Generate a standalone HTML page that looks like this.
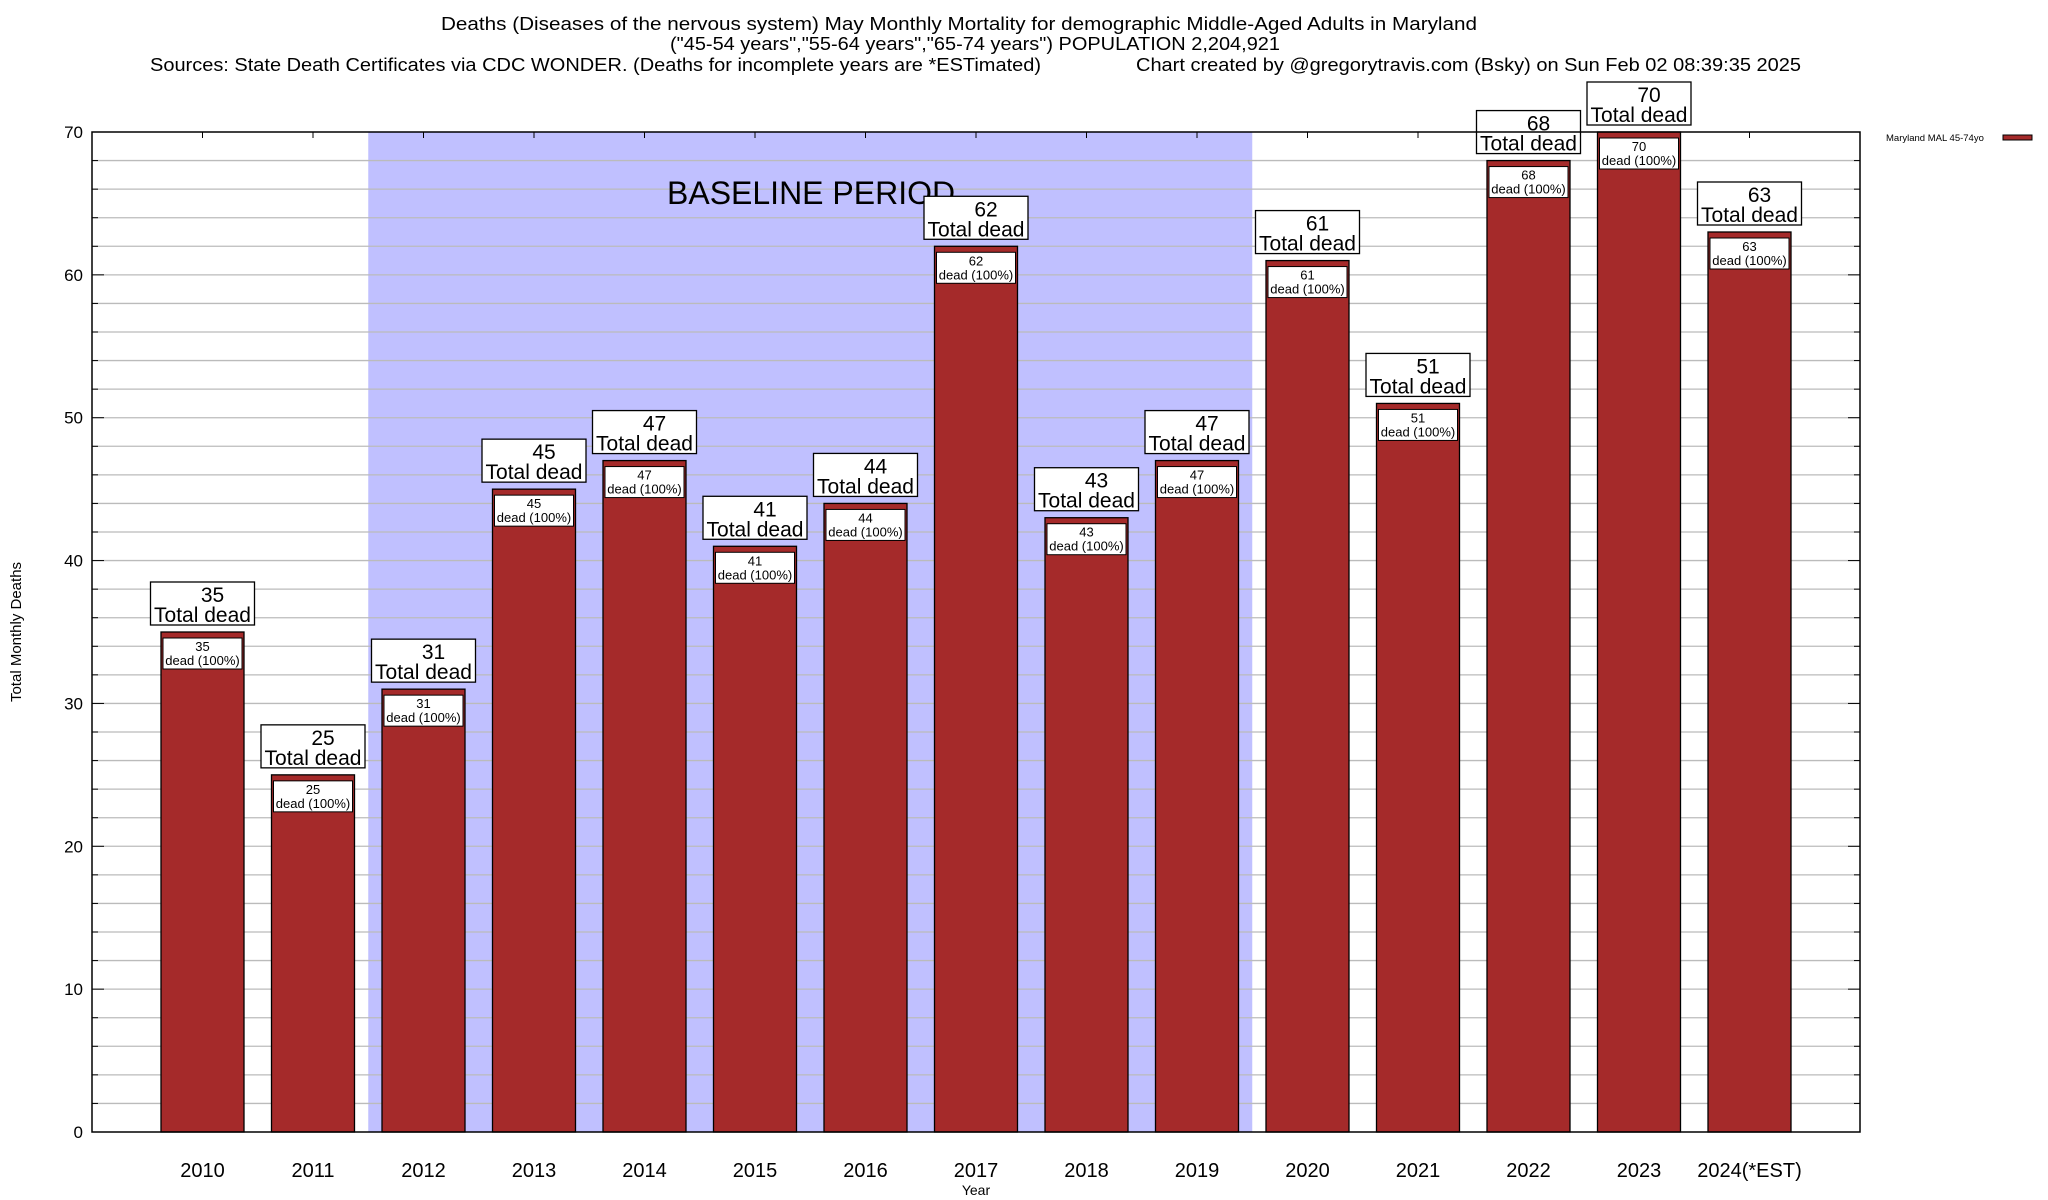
<!DOCTYPE html>
<html><head><meta charset="utf-8"><style>
body{margin:0;background:#fff}
svg{display:block;font-family:"Liberation Sans",sans-serif}
</style></head><body>
<svg id="chart" width="2048" height="1200" viewBox="0 0 2048 1200" xmlns="http://www.w3.org/2000/svg">
<rect width="2048" height="1200" fill="#fff"/>
<g font-size="18" fill="#000">
<text x="441" y="30" textLength="1036" lengthAdjust="spacingAndGlyphs">Deaths (Diseases of the nervous system) May Monthly Mortality for demographic Middle-Aged Adults in Maryland</text>
<text x="670" y="50" textLength="610" lengthAdjust="spacingAndGlyphs">("45-54 years","55-64 years","65-74 years") POPULATION 2,204,921</text>
<text x="150" y="71" textLength="891" lengthAdjust="spacingAndGlyphs">Sources: State Death Certificates via CDC WONDER. (Deaths for incomplete years are *ESTimated)</text>
<text x="1136" y="71" textLength="665" lengthAdjust="spacingAndGlyphs">Chart created by @gregorytravis.com (Bsky) on Sun Feb 02 08:39:35 2025</text>
</g>
<g id="plot"></g>
</svg>
<script>
const categories=["2010","2011","2012","2013","2014","2015","2016","2017","2018","2019","2020","2021","2022","2023","2024(*EST)"];
const values=[35,25,31,45,47,41,44,62,43,47,61,51,68,70,63];
const yTicks=[0,10,20,30,40,50,60,70];
const baselineRange=[2,9];

const NS="http://www.w3.org/2000/svg";
const L=92,R=1860,T=132,B=1132,YMAX=70;
const slot=(R-L)/(categories.length+1);
const xc=i=>L+slot*(i+1);
const y=v=>B-(B-T)*v/YMAX;
const g=document.getElementById('plot');
function el(tag,attrs,parent){const e=document.createElementNS(NS,tag);for(const k in attrs)e.setAttribute(k,attrs[k]);(parent||g).appendChild(e);return e;}

const bs=el('rect',{x:xc(baselineRange[0])-slot/2,y:T,width:slot*(baselineRange[1]-baselineRange[0]+1),height:B-T,fill:'#c0c0ff'});


for(let v=2;v<YMAX;v+=2){
  const l=el('line',{x1:L,x2:R,y1:y(v),y2:y(v),stroke:'#bbb','stroke-width':1.3});
  
  
  const len=v%10===0?12:6;
  el('line',{x1:L,x2:L+len,y1:y(v),y2:y(v),stroke:'#000','stroke-width':1});
  el('line',{x1:R-len,x2:R,y1:y(v),y2:y(v),stroke:'#000','stroke-width':1});
}
const bt=el('text',{x:667,y:204,'font-size':32});
bt.textContent='BASELINE PERIOD';


yTicks.forEach(v=>{
  const t=el('text',{x:83,y:y(v)+6,'font-size':17,'text-anchor':'end'});
  t.textContent=v;
  
  
});
const bw=83;
categories.forEach((c,i)=>{
  const v=values[i],cx=xc(i),top=y(v);
  el('line',{x1:cx,x2:cx,y1:T,y2:T+6,stroke:'#000','stroke-width':1});
  const bar=el('rect',{x:cx-bw/2,y:top,width:bw,height:B-top,fill:'#a52a2a',stroke:'#000','stroke-width':1.3});
  
  
  const ib=el('rect',{x:cx-bw/2+2,y:top+6,width:bw-4,height:31,fill:'#fff',stroke:'#000','stroke-width':1});
  
  
  const t1=el('text',{x:cx,y:top+19,'font-size':13,'text-anchor':'middle'});t1.textContent=v;
  const t2=el('text',{x:cx,y:top+33,'font-size':13,'text-anchor':'middle'});t2.textContent='dead (100%)';
  const ob=el('rect',{x:cx-52,y:top-50,width:104,height:43,fill:'#fff',stroke:'#000','stroke-width':1.3});
  
  
  const t3=el('text',{x:cx+10,y:top-30,'font-size':21,'text-anchor':'middle'});t3.textContent=v;
  
  
  const t4=el('text',{x:cx,y:top-10,'font-size':21,'text-anchor':'middle'});t4.textContent='Total dead';
  const xl=el('text',{x:cx,y:1177,'font-size':20,'text-anchor':'middle'});xl.textContent=c;
  
  
});
const fr=el('rect',{x:L,y:T,width:R-L,height:B-T,fill:'none',stroke:'#000','stroke-width':1.5});


const xt=el('text',{x:976,y:1195,'font-size':14,'text-anchor':'middle'});xt.textContent='Year';


const yt=el('text',{x:0,y:0,'font-size':15,'text-anchor':'middle',transform:'translate(21,632) rotate(-90)'});yt.textContent='Total Monthly Deaths';


const lg=el('g',{});


const lt=el('text',{x:1886,y:141,'font-size':9.5},lg);lt.textContent='Maryland MAL 45-74yo';
el('rect',{x:2003,y:135,width:29,height:5,fill:'#a52a2a',stroke:'#000','stroke-width':1},lg);
</script>
</body></html>
